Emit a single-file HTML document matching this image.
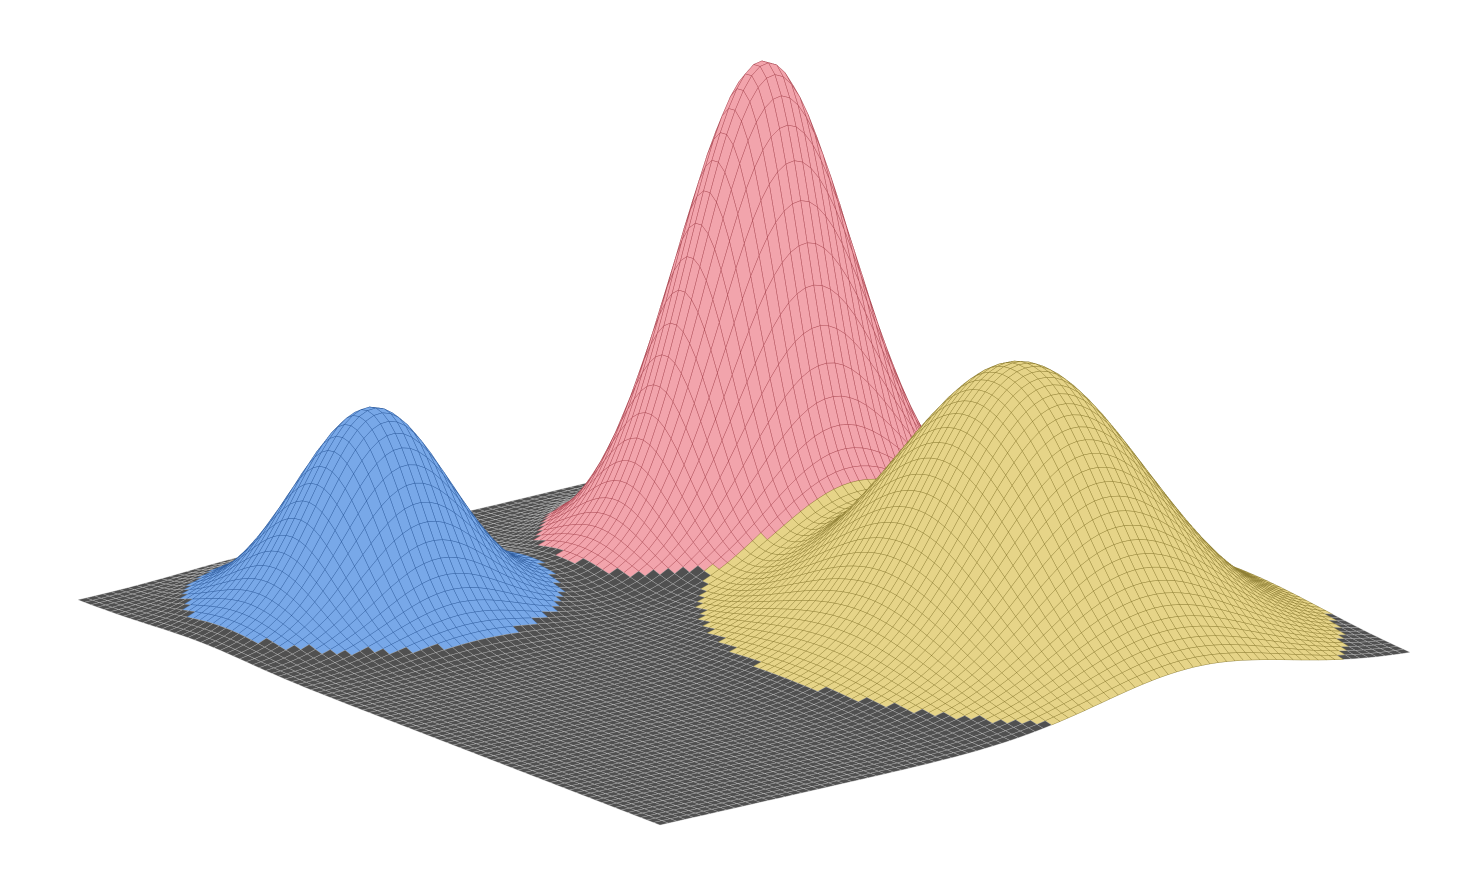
<!DOCTYPE html>
<html><head><meta charset="utf-8"><style>
html,body{margin:0;padding:0;background:#fff;width:1472px;height:896px;overflow:hidden}
svg{display:block}
</style></head><body>
<svg id="chart" width="1472" height="896" viewBox="0 0 1472 896">
<g id="mesh"></g>
</svg>
<script>
// Peak data (floor coordinates u,v in [0,1], height in screen px, spread)
const peakNames = ['blue-peak','red-peak','yellow-peak'];
const peakU = [0.23, 0.72, 0.715];
const peakV = [0.79, 0.75, 0.3];
const peakHeight = [200, 470, 272];
const peakSigmaU = [0.085, 0.1, 0.125];
const peakSigmaV = [0.08, 0.075, 0.15];
const peakThreshold = [12, 16, 12];
const peakFill = ['#78a8e8','#f2a4ac','#e6d488'];
const peakStroke = ['#2c5a9c','#a84650','#8a7a30'];

const FRONT=[660,825], RIGHT=[1410,655], LEFT=[78,600];
const du=[RIGHT[0]-FRONT[0],RIGHT[1]-FRONT[1]], dv=[LEFT[0]-FRONT[0],LEFT[1]-FRONT[1]];
function comp(u,v,i){const a=(u-peakU[i])/peakSigmaU[i], b=(v-peakV[i])/peakSigmaV[i];return peakHeight[i]*Math.exp(-0.5*(a*a+b*b));}
function proj(u,v){let z=0;for(let i=0;i<peakNames.length;i++)z+=comp(u,v,i);
 return [FRONT[0]+u*du[0]+v*dv[0], FRONT[1]+u*du[1]+v*dv[1]-z];}
const N=90;
const P=[];
for(let i=0;i<=N;i++){P[i]=[];for(let j=0;j<=N;j++)P[i][j]=proj(i/N,j/N);}
const faces=[];
for(let i=0;i<N;i++)for(let j=0;j<N;j++)faces.push([i,j]);
faces.sort((a,b)=>(b[0]+b[1])-(a[0]+a[1]));
const g=document.getElementById('mesh');
let html='';
for(const [i,j] of faces){
 const u=(i+0.5)/N,v=(j+0.5)/N;
 let best=-1,bz=0;
 for(let k=0;k<peakNames.length;k++){const c=comp(u,v,k);if(c>peakThreshold[k]&&c>bz){bz=c;best=k;}}
 const fill=best<0?'#505050':peakFill[best];
 const st=best<0?'#c4c4c4':peakStroke[best];
 const sw=best<0?0.4:0.45;
 const a=P[i][j],b=P[i+1][j],c=P[i+1][j+1],d=P[i][j+1];
 html+=`<path d="M${a[0].toFixed(1)},${a[1].toFixed(1)}L${b[0].toFixed(1)},${b[1].toFixed(1)}L${c[0].toFixed(1)},${c[1].toFixed(1)}L${d[0].toFixed(1)},${d[1].toFixed(1)}Z" fill="${fill}" stroke="${st}" stroke-width="${sw}"/>`;
}
g.innerHTML=html;
g.querySelectorAll('path').forEach(p=>{


});
</script>
</body></html>
